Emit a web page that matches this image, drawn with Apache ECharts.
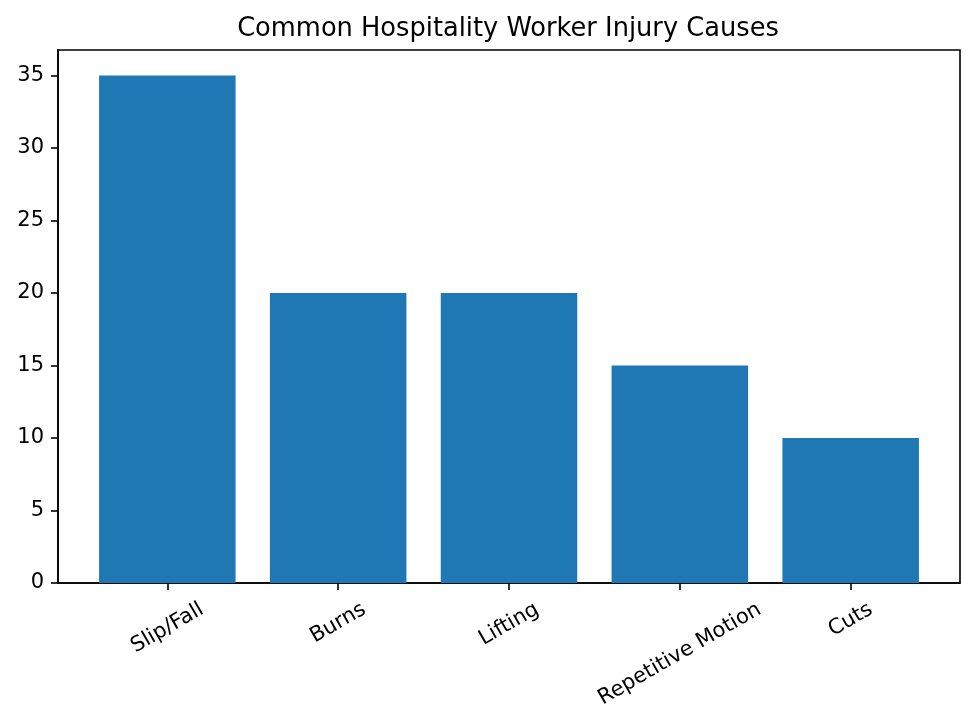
<!DOCTYPE html>
<html>
<head>
<meta charset="utf-8">
<script src="https://cdn.jsdelivr.net/npm/echarts@6/dist/echarts.min.js"></script>
<style>
  html, body { margin: 0; padding: 0; background: #fff; }
  #chart { width: 975px; height: 727px; }
</style>
</head>
<body>
<div id="chart"></div>
<script>
var title = 'Common Hospitality Worker Injury Causes';
var categories = ['Slip/Fall', 'Burns', 'Lifting', 'Repetitive Motion', 'Cuts'];
var values = [35, 20, 20, 15, 10];
var yTicks = [0, 5, 10, 15, 20, 25, 30, 35];

var FONT = 'DejaVu Sans';
var TICK_FS = 21;
var X_MIN = -0.64, X_MAX = 4.64;

// measure label widths to emulate centered rotated labels
var ctx = document.createElement('canvas').getContext('2d');
ctx.font = TICK_FS + 'px "' + FONT + '"';
function labelMargin(txt) {
  var w = ctx.measureText(txt).width;
  return 25 + w / 4;
}

var positions = categories.map(function (c, i) { return i; });

var xAxes = [{
  type: 'value', gridIndex: 0, position: 'bottom',
  min: X_MIN, max: X_MAX,
  splitLine: { show: false },
  axisLine: { show: true, onZero: false, lineStyle: { color: '#000', width: 1.6 } },
  axisTick: { show: true, length: 7, customValues: positions, lineStyle: { color: '#000', width: 1.6 } },
  axisLabel: { show: false }
}];
categories.forEach(function (c, i) {
  xAxes.push({
    type: 'value', gridIndex: 0, position: 'bottom',
    min: X_MIN, max: X_MAX,
    splitLine: { show: false },
    axisLine: { show: false, onZero: false },
    axisTick: { show: false },
    axisLabel: {
      show: true,
      customValues: [i],
      rotate: 30,
      align: 'center',
      verticalAlign: 'middle',
      margin: labelMargin(c),
      fontFamily: FONT,
      fontSize: TICK_FS,
      color: '#000',
      formatter: function (v) { return categories[Math.round(v)]; }
    }
  });
});

var chart = echarts.init(document.getElementById('chart'), null, { renderer: 'canvas' });
chart.setOption({
  animation: false,
  backgroundColor: '#fff',
  title: {
    text: title,
    left: 503,
    textAlign: 'center',
    top: 11,
    textStyle: { fontFamily: FONT, fontSize: 25.7, fontWeight: 'normal', color: '#000' }
  },
  grid: {
    left: 58, right: 15, top: 50, bottom: 144,
    show: true, borderColor: '#000', borderWidth: 1.6, backgroundColor: 'transparent'
  },
  xAxis: xAxes,
  yAxis: {
    type: 'value',
    min: 0, max: 36.75, interval: 5,
    splitLine: { show: false },
    axisLine: { show: true, onZero: false, lineStyle: { color: '#000', width: 1.6 } },
    axisTick: { show: true, length: 7, customValues: yTicks, lineStyle: { color: '#000', width: 1.6 } },
    axisLabel: {
      customValues: yTicks,
      margin: 14,
      padding: [5, 0, 0, 0],
      fontFamily: FONT,
      fontSize: TICK_FS,
      color: '#000'
    }
  },
  series: [{
    type: 'bar',
    xAxisIndex: 0,
    yAxisIndex: 0,
    barWidth: 136.5,
    itemStyle: { color: '#1f77b4' },
    data: values.map(function (v, i) { return [positions[i], v]; })
  }]
});
</script>
</body>
</html>
